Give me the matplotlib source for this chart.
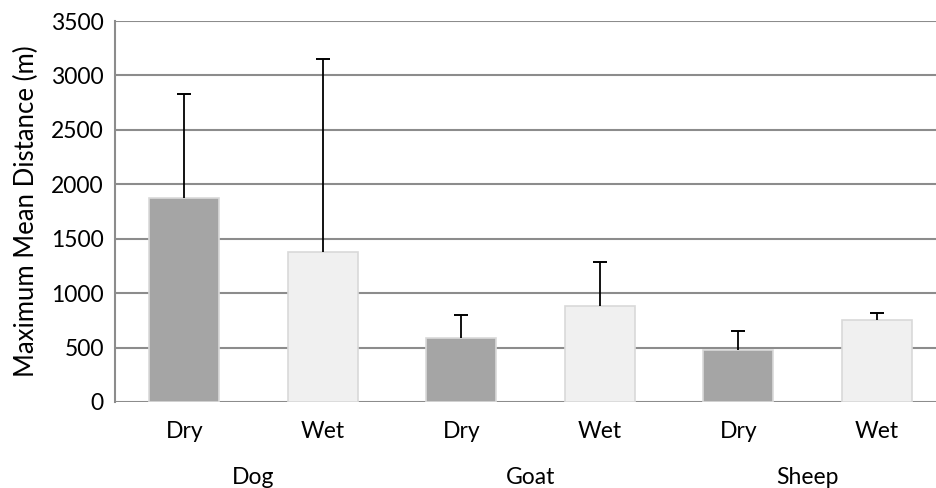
import numpy as np
import matplotlib.pyplot as plt

plt.rcParams['font.family'] = ['Lato', 'DejaVu Sans']

animals = ["Dog", "Goat", "Sheep"]
seasons = ["Dry", "Wet", "Dry", "Wet", "Dry", "Wet"]
means = [1875, 1380, 590, 882, 478, 753]
upper = [2825, 3155, 800, 1288, 652, 820]

err = [u - m for u, m in zip(upper, means)]
colors = ["#a5a5a5" if s == "Dry" else "#f0f0f0" for s in seasons]

fig = plt.figure(figsize=(9.36, 4.88), dpi=100)
ax = fig.add_axes([115/936, (488-402)/488, 831/936, 381/488])

x = np.arange(len(seasons))
ax.bar(x, means, width=0.505, color=colors, edgecolor="#d9d9d9", linewidth=1.2, zorder=3)
# one-sided error bars, cap only on top
ax.errorbar(x, means, yerr=[np.zeros(len(err)), err], fmt="none", ecolor="black",
            elinewidth=1.3, capsize=0, zorder=4)
ax.plot(x, upper, linestyle="none", marker="_", markersize=10, markeredgewidth=1.4,
        color="black", zorder=4)

ax.set_xlim(-0.5, 5.5)
ax.set_ylim(0, 3500)
ax.set_yticks(np.arange(0, 3501, 500))
ax.yaxis.grid(True, color="#8c8c8c", linewidth=1.5, zorder=0)
ax.set_axisbelow(True)

for s in ["top", "right", "bottom"]:
    ax.spines[s].set_visible(False)
ax.spines["left"].set_color("#8c8c8c")
ax.spines["left"].set_linewidth(1.5)

ax.set_xticks(x)
ax.set_xticklabels(seasons, fontsize=16.5)
ax.tick_params(axis="x", length=0, pad=14)
ax.tick_params(axis="y", length=0, labelsize=16.5, pad=8)

for i, a in enumerate(animals):
    ax.text(2*i + 0.5, -690, a, ha="center", va="center", fontsize=16.5)

ax.set_ylabel("Maximum Mean Distance (m)", fontsize=18.5, labelpad=9)

fig.savefig("out.png", dpi=100)
